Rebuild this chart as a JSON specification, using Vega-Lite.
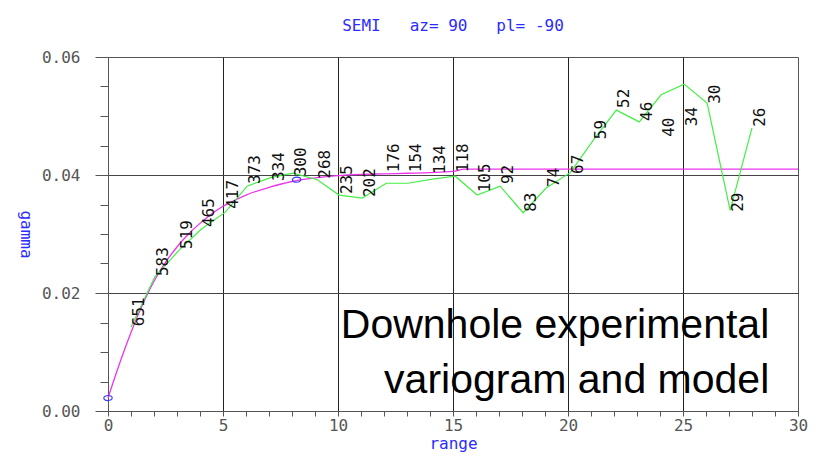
{
  "$schema": "https://vega.github.io/schema/vega-lite/v6.json",
  "width": 690,
  "height": 354,
  "autosize": {"type": "none"},
  "padding": {"left": 108, "top": 57, "right": 19, "bottom": 46},
  "background": "white",
  "title": {
    "text": "SEMI\u00a0\u00a0\u00a0az=\u00a090\u00a0\u00a0\u00a0pl=\u00a0-90",
    "font": "DejaVu Sans Mono",
    "fontSize": 16,
    "fontWeight": "normal",
    "color": "#2b2bff",
    "anchor": "middle",
    "offset": 15
  },
  "datasets": {
    "exp": [
      {"lag": 1.0, "gamma": 0.0142, "ly": 0.0142, "n": 651},
      {"lag": 2.03, "gamma": 0.0227, "ly": 0.0227, "n": 583},
      {"lag": 3.1, "gamma": 0.0273, "ly": 0.0273, "n": 519},
      {"lag": 4.05, "gamma": 0.0308, "ly": 0.031, "n": 465},
      {"lag": 5.1, "gamma": 0.0337, "ly": 0.0341, "n": 417},
      {"lag": 6.05, "gamma": 0.0381, "ly": 0.0383, "n": 373},
      {"lag": 7.1, "gamma": 0.0396, "ly": 0.0388, "n": 334},
      {"lag": 8.05, "gamma": 0.0403, "ly": 0.0396, "n": 300},
      {"lag": 9.1, "gamma": 0.0392, "ly": 0.0392, "n": 268},
      {"lag": 10.05, "gamma": 0.0366, "ly": 0.0366, "n": 235},
      {"lag": 11.05, "gamma": 0.0361, "ly": 0.0361, "n": 202},
      {"lag": 12.1, "gamma": 0.0386, "ly": 0.0403, "n": 176},
      {"lag": 13.05, "gamma": 0.0386, "ly": 0.0403, "n": 154},
      {"lag": 14.1, "gamma": 0.0393, "ly": 0.04, "n": 134},
      {"lag": 15.1, "gamma": 0.0398, "ly": 0.0403, "n": 118},
      {"lag": 16.05, "gamma": 0.0366, "ly": 0.0369, "n": 105},
      {"lag": 17.05, "gamma": 0.0381, "ly": 0.0383, "n": 92},
      {"lag": 18.05, "gamma": 0.0336, "ly": 0.0336, "n": 83},
      {"lag": 19.05, "gamma": 0.0378, "ly": 0.0378, "n": 74},
      {"lag": 20.1, "gamma": 0.0404, "ly": 0.04, "n": 67},
      {"lag": 21.1, "gamma": 0.0459, "ly": 0.0459, "n": 59},
      {"lag": 22.1, "gamma": 0.051, "ly": 0.0512, "n": 52},
      {"lag": 23.1, "gamma": 0.049, "ly": 0.049, "n": 46},
      {"lag": 24.05, "gamma": 0.0536, "ly": 0.0463, "n": 40},
      {"lag": 25.05, "gamma": 0.0554, "ly": 0.0481, "n": 34},
      {"lag": 26.05, "gamma": 0.0522, "ly": 0.0519, "n": 30},
      {"lag": 27.05, "gamma": 0.034, "ly": 0.0336, "n": 29},
      {"lag": 28.0, "gamma": 0.048, "ly": 0.048, "n": 26}
    ],
    "model": [
      {"lag": 0, "gamma": 0.0022},
      {"lag": 0.5, "gamma": 0.008},
      {"lag": 1.0, "gamma": 0.0133},
      {"lag": 1.5, "gamma": 0.018},
      {"lag": 2.0, "gamma": 0.022},
      {"lag": 2.5, "gamma": 0.0252},
      {"lag": 3.0, "gamma": 0.0278},
      {"lag": 3.5, "gamma": 0.03},
      {"lag": 4.0, "gamma": 0.0318},
      {"lag": 4.5, "gamma": 0.0334},
      {"lag": 5.0, "gamma": 0.0347},
      {"lag": 5.5, "gamma": 0.0357},
      {"lag": 6.0, "gamma": 0.0366},
      {"lag": 7.0, "gamma": 0.0379},
      {"lag": 8.0, "gamma": 0.0389},
      {"lag": 9.0, "gamma": 0.0395},
      {"lag": 10.0, "gamma": 0.0399},
      {"lag": 11.0, "gamma": 0.0401},
      {"lag": 12.0, "gamma": 0.0402},
      {"lag": 13.0, "gamma": 0.0403},
      {"lag": 14.0, "gamma": 0.0404},
      {"lag": 15.0, "gamma": 0.0406},
      {"lag": 15.5, "gamma": 0.041},
      {"lag": 20.0, "gamma": 0.041},
      {"lag": 25.0, "gamma": 0.041},
      {"lag": 30.0, "gamma": 0.041}
    ],
    "marks": [
      {"lag": 0, "gamma": 0.0022},
      {"lag": 8.2, "gamma": 0.0392}
    ],
    "note": [
      {"lag": 28.75, "gamma": 0.0124, "text": "Downhole experimental"},
      {"lag": 28.75, "gamma": 0.003, "text": "variogram and model"}
    ]
  },
  "config": {
    "view": {"stroke": "#555", "strokeWidth": 1},
    "axis": {
      "labelFont": "DejaVu Sans Mono",
      "labelFontSize": 16,
      "labelColor": "#555",
      "titleFont": "DejaVu Sans Mono",
      "titleFontSize": 16,
      "titleFontWeight": "normal",
      "titleColor": "#2b2bff",
      "domainColor": "#555",
      "tickColor": "#555",
      "labelOverlap": false,
      "labelFlush": false
    }
  },
  "layer": [
    {
      "mark": {"type": "rule", "color": "#ff4040", "strokeWidth": 1},
      "encoding": {"y": {"datum": 0.0425, "type": "quantitative"}}
    },
    {
      "data": {"name": "model"},
      "mark": {"type": "line", "color": "#ee33ee", "strokeWidth": 1.3, "interpolate": "monotone"},
      "encoding": {
        "x": {
          "field": "lag",
          "type": "quantitative",
          "scale": {"domain": [0, 30], "nice": false, "zero": false},
          "axis": {
            "title": "range",
            "titlePadding": 2,
            "tickCount": 100,
            "values": [0,1,2,3,4,5,6,7,8,9,10,11,12,13,14,15,16,17,18,19,20,21,22,23,24,25,26,27,28,29,30],
            "format": "d",
            "labelExpr": "datum.value % 5 === 0 ? datum.label : ''",
            "labelPadding": 1,
            "tickSize": 5,
            "grid": true,
            "gridColor": "#222",
            "gridOpacity": {"condition": {"test": "datum.value % 5 === 0 && datum.value > 0 && datum.value < 30", "value": 1}, "value": 0}
          }
        },
        "y": {
          "field": "gamma",
          "type": "quantitative",
          "scale": {"domain": [0, 0.06], "nice": false},
          "axis": {
            "title": "gamma",
            "titleAngle": 90,
            "titlePadding": 24,
            "tickCount": 100,
            "values": [0,0.005,0.01,0.015,0.02,0.025,0.03,0.035,0.04,0.045,0.05,0.055,0.06],
            "format": ".2f",
            "labelExpr": "round(datum.value*1000) % 20 === 0 ? datum.label : ''",
            "labelPadding": 15,
            "tickSize": {"condition": {"test": "round(datum.value*1000) % 20 === 0", "value": 13}, "value": 8},
            "grid": true,
            "gridColor": "#444",
            "gridOpacity": {"condition": {"test": "round(datum.value*1000) === 20 || round(datum.value*1000) === 40", "value": 1}, "value": 0}
          }
        }
      }
    },
    {
      "data": {"name": "exp"},
      "mark": {"type": "line", "color": "#44ee44", "strokeWidth": 1.2},
      "encoding": {
        "x": {"field": "lag", "type": "quantitative"},
        "y": {"field": "gamma", "type": "quantitative"}
      }
    },
    {
      "data": {"name": "exp"},
      "mark": {"type": "text", "angle": 270, "align": "left", "baseline": "top", "font": "DejaVu Sans Mono", "fontSize": 16, "color": "#111", "dx": 1},
      "encoding": {
        "x": {"field": "lag", "type": "quantitative"},
        "y": {"field": "ly", "type": "quantitative"},
        "text": {"field": "n", "type": "quantitative"}
      }
    },
    {
      "data": {"name": "marks"},
      "mark": {"type": "point", "shape": "M-1,0A1,0.6 0 1,0 1,0A1,0.6 0 1,0 -1,0Z", "filled": false, "color": "#3a3aff", "strokeWidth": 1.2, "size": 70, "opacity": 1},
      "encoding": {
        "x": {"field": "lag", "type": "quantitative"},
        "y": {"field": "gamma", "type": "quantitative"}
      }
    },
    {
      "data": {"name": "note"},
      "mark": {"type": "text", "align": "right", "baseline": "alphabetic", "font": "Liberation Sans", "fontSize": 41, "color": "#000"},
      "encoding": {
        "x": {"field": "lag", "type": "quantitative"},
        "y": {"field": "gamma", "type": "quantitative"},
        "text": {"field": "text", "type": "nominal"}
      }
    }
  ]
}
